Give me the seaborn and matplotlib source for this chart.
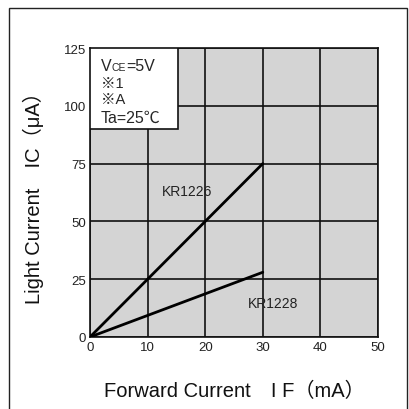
import matplotlib
matplotlib.use("Agg")
import matplotlib.pyplot as plt
import seaborn as sns
import pandas as pd
from matplotlib.patches import Rectangle
from matplotlib.transforms import offset_copy

# Data
models = ["KR1226", "KR1228"]
forward_current = [0, 30]
kr1226_ic = [0, 75]
kr1228_ic = [0, 28]
x_ticks = [0, 10, 20, 30, 40, 50]
y_ticks = [0, 25, 50, 75, 100, 125]

sns.set_theme(style="white")
plt.rcParams['font.family'] = ['Liberation Sans', 'Noto Sans CJK JP', 'DejaVu Sans']

df = pd.DataFrame({
    "IF": forward_current * 2,
    "IC": kr1226_ic + kr1228_ic,
    "model": [models[0]] * 2 + [models[1]] * 2,
})

fig = plt.figure(figsize=(4.1, 4.1), dpi=100)
fig.patch.set_facecolor("white")
fig.patches.append(Rectangle((8.5/410, -0.01), (407-8.5)/410, (410-9)/410 + 0.01,
                             transform=fig.transFigure, fill=False,
                             edgecolor="#222222", linewidth=1.0))

ax = fig.add_axes([90/410, (410-338)/410, 288/410, 289/410])
ax.set_facecolor("#d4d4d4")
ax.set_xlim(0, 50)
ax.set_ylim(0, 125)
ax.set_xticks(x_ticks)
ax.set_yticks(y_ticks)
ax.grid(True, color="#111111", linewidth=1.2)
ax.set_axisbelow(True)
for s in ax.spines.values():
    s.set_color("#111111")
    s.set_linewidth(1.2)

sns.lineplot(data=df, x="IF", y="IC", hue="model", palette=["#000000", "#000000"],
             linewidth=2.0, legend=False, ax=ax, zorder=3)

ax.tick_params(axis="both", length=0, labelsize=9.5, pad=3, colors="#222222")
ax.set_xlabel("Forward Current　I F（mA）", fontsize=14.5, labelpad=20, color="#111111")
ax.set_ylabel("Light Current　IC（μA）", fontsize=14.5, labelpad=14, color="#111111")

# condition box
ax.add_patch(Rectangle((0, 90), 15.3, 35, facecolor="white", edgecolor="#111111",
                       linewidth=1.2, zorder=4))
bs = 11.5
yb = 115.6
tv = ax.text(1.9, yb, "V", fontsize=bs, va="baseline", zorder=5)
fig.canvas.draw()
r = fig.canvas.get_renderer()
w = tv.get_window_extent(r).width * 72 / fig.dpi
tce = ax.text(1.9, yb, "CE", fontsize=7.5, va="baseline", zorder=5,
              transform=offset_copy(ax.transData, fig=fig, x=w, y=0, units="points"))
fig.canvas.draw()
w2 = tce.get_window_extent(r).width * 72 / fig.dpi
ax.text(1.9, yb, "=5V", fontsize=bs, va="baseline", zorder=5,
        transform=offset_copy(ax.transData, fig=fig, x=w + w2, y=0, units="points"))
ax.text(1.9, 109.8, "※1", fontsize=10.5, va="center", zorder=5)
ax.text(1.9, 103.0, "※A", fontsize=10.5, va="center", zorder=5)
ax.text(1.9, 95.2, "Ta=25℃", fontsize=bs, va="center", zorder=5)

ax.text(16.8, 63, models[0], fontsize=10, ha="center", va="center", color="#222222", zorder=5)
ax.text(31.8, 14.5, models[1], fontsize=10, ha="center", va="center", color="#222222", zorder=5)

fig.savefig("out.png", dpi=100)
